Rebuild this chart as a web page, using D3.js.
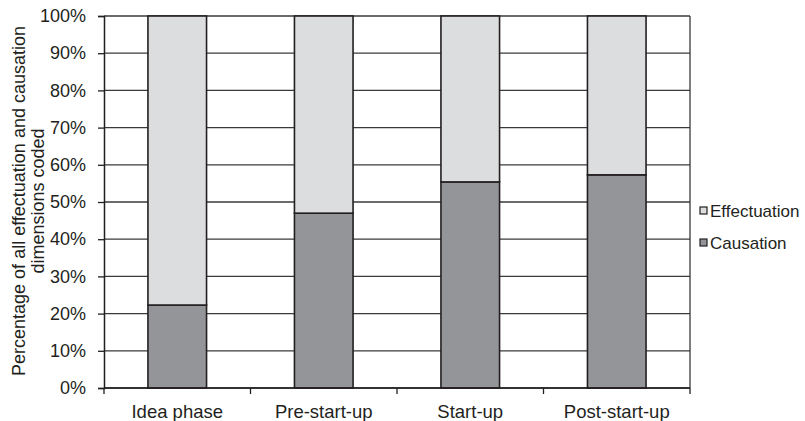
<!DOCTYPE html>
<html><head><meta charset="utf-8">
<script src="https://cdn.jsdelivr.net/npm/d3@7"></script>
<style>body{margin:0;background:#fff}svg{display:block}text{font-family:"Liberation Sans",Arial,sans-serif;fill:#231f20}</style>
</head><body><svg id="c" width="805" height="421"></svg>
<script>
const categories = ["Idea phase","Pre-start-up","Start-up","Post-start-up"];
const causation = [22.3, 47.0, 55.4, 57.3];
const effectuation = causation.map(v => 100 - v);
const yTicks = [0,10,20,30,40,50,60,70,80,90,100];
const seriesNames = ["Effectuation","Causation"];
const colors = {Effectuation:"#dcdddf", Causation:"#939598"};

const svg = d3.select("#c");
const m = {l:104, r:115, t:16, b:33};
const W = 805 - m.l - m.r, H = 421 - m.t - m.b;
const g = svg.append("g").attr("transform",`translate(${m.l},${m.t})`);
const x = d3.scaleBand().domain(categories).range([0,W]).paddingInner(0.6).paddingOuter(0.3);
const y = d3.scaleLinear().domain([0,100]).range([H,0]);
const stroke = "#231f20";

// gridlines
g.selectAll(".grid").data(yTicks).join("line")
  .attr("x1",0).attr("x2",W).attr("y1",d=>y(d)).attr("y2",d=>y(d))
  .attr("stroke","#3a3a3a").attr("stroke-width",1.3);
// right border
g.append("line").attr("x1",W).attr("x2",W).attr("y1",0).attr("y2",H).attr("stroke","#3a3a3a").attr("stroke-width",1.3);

const rows = categories.map((c,i)=>({c, Causation:causation[i], Effectuation:effectuation[i]}));
const stack = d3.stack().keys(["Causation","Effectuation"])(rows);
g.selectAll(".s").data(stack).join("g")
  .attr("fill",d=>colors[d.key])
  .selectAll("rect").data(d=>d).join("rect")
  .attr("x",d=>x(d.data.c)).attr("width",x.bandwidth())
  .attr("y",d=>y(d[1])).attr("height",d=>y(d[0])-y(d[1]))
  .attr("stroke",stroke).attr("stroke-width",1.6);

// y axis
const ya = d3.axisLeft(y).tickValues(yTicks).tickFormat(d=>d+"%").tickSize(6).tickPadding(12);
const yg = g.append("g").call(ya);
yg.select(".domain").attr("stroke",stroke).attr("stroke-width",1.5);
yg.selectAll(".tick line").attr("stroke",stroke).attr("stroke-width",1.3);
yg.selectAll("text").attr("font-size",18).attr("font-family","Liberation Sans, Arial, sans-serif").attr("fill","#231f20");

// x axis
const xg = g.append("g").attr("transform",`translate(0,${H})`);
xg.append("line").attr("x1",0).attr("x2",W).attr("stroke",stroke).attr("stroke-width",1.5);
const bounds = d3.range(categories.length+1).map(i=>i*W/categories.length);
xg.selectAll(".xt").data(bounds).join("line")
  .attr("x1",d=>d).attr("x2",d=>d).attr("y1",0).attr("y2",6).attr("stroke",stroke).attr("stroke-width",1.3);
xg.selectAll(".xl").data(categories).join("text")
  .attr("x",d=>x(d)+x.bandwidth()/2).attr("y",30).attr("text-anchor","middle").attr("font-size",18.5).text(d=>d);

// y title
const yt = svg.append("text").attr("transform",`translate(0,201) rotate(-90)`).attr("text-anchor","middle").attr("font-size",18);
yt.append("tspan").attr("x",0).attr("y",25).text("Percentage of all effectuation and causation");
yt.append("tspan").attr("x",0).attr("y",44).text("dimensions coded");

// legend
const lg = svg.append("g").attr("transform","translate(700,0)");
seriesNames.forEach((n,i)=>{
  const yy = 207 + i*32;
  lg.append("rect").attr("x",0).attr("y",yy).attr("width",7).attr("height",7)
    .attr("fill",colors[n]).attr("stroke",stroke).attr("stroke-width",1.2);
  lg.append("text").attr("x",10).attr("y",yy+10).attr("font-size",17).text(n);
});
</script></body></html>
